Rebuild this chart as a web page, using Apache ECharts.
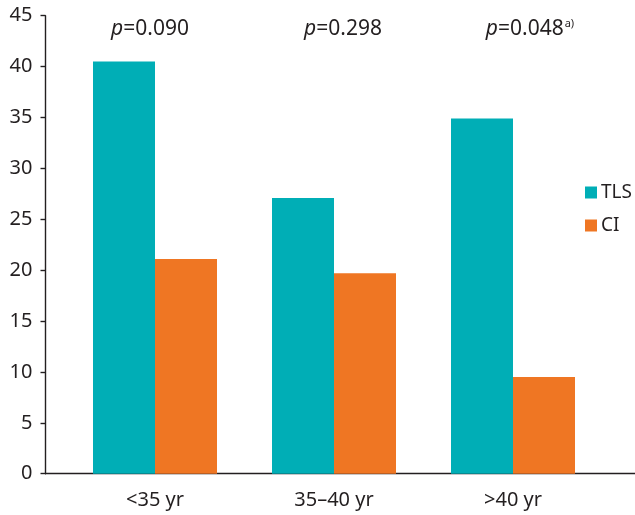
<!DOCTYPE html>
<html>
<head>
<meta charset="utf-8">
<script src="https://cdn.jsdelivr.net/npm/echarts@6/dist/echarts.min.js"></script>
<style>html,body{margin:0;padding:0;background:#fff}#c{width:635px;height:515px}</style>
</head>
<body>
<div id="c"></div>
<script>
const categories = ['<35 yr', '35\u201340 yr', '>40 yr'];
const tlsValues = [40.5, 27.1, 34.9];
const ciValues = [21.1, 19.7, 9.5];
const yMin = 0, yMax = 45, yInterval = 5;
const pValues = ['0.090', '0.298', '0.048'];
const pNotes = ['', '', 'a)'];
const pLabelLevel = 43.7;

const textColor = '#231f20';
const font = 'Noto Sans';
const pShift = [-5, 9, 17];

const chart = echarts.init(document.getElementById('c'), null, {renderer: 'canvas'});
chart.setOption({
  animation: false,
  backgroundColor: '#fff',
  textStyle: {fontFamily: font, color: textColor},
  grid: [
    {left: 65.5, right: 32.5, top: 15.7, bottom: 41.3},
    {left: 45.5, right: 0, top: 15.7, bottom: 41.3}
  ],
  legend: {
    orient: 'vertical', left: 585, top: 183, padding: 0,
    itemWidth: 12, itemHeight: 12, itemGap: 14, icon: 'rect',
    textStyle: {fontFamily: font, fontSize: 19, color: textColor, padding: [0, 0, 0, -1]},
    data: ['TLS', 'CI']
  },
  xAxis: [
    {
      type: 'category', gridIndex: 0, data: categories,
      axisLine: {show: false}, axisTick: {show: false},
      axisLabel: {fontFamily: font, fontSize: 20, color: textColor, margin: 17}
    },
    {
      type: 'value', gridIndex: 1, min: 0, max: 1,
      axisLine: {show: true, onZero: false, lineStyle: {color: textColor, width: 1.4}},
      axisTick: {show: false}, axisLabel: {show: false}, splitLine: {show: false}
    }
  ],
  yAxis: [
    {
      type: 'value', gridIndex: 0, min: yMin, max: yMax, interval: yInterval, offset: 20,
      axisLine: {show: true, lineStyle: {color: textColor, width: 1.4}},
      axisTick: {show: true, length: 5, lineStyle: {color: textColor, width: 1.4}},
      axisLabel: {fontFamily: font, fontSize: 20, color: textColor, margin: 13},
      splitLine: {show: false}
    },
    {type: 'value', gridIndex: 1, min: 0, max: 1, show: false}
  ],
  series: [
    {name: 'TLS', type: 'bar', data: tlsValues, barWidth: 62, barGap: '0%',
      itemStyle: {color: '#00aeb6'}},
    {name: 'CI', type: 'bar', data: ciValues, barWidth: 62, barGap: '0%',
      itemStyle: {color: '#ef7623'}},
    {
      type: 'scatter', symbolSize: 0, silent: true,
      itemStyle: {opacity: 1},
      data: pValues.map((v, i) => ({
        value: [i, pLabelLevel],
        label: {
          show: true, position: 'inside', offset: [pShift[i], 0], opacity: 1,
          formatter: '{i|p}{n|=' + v + '}' + (pNotes[i] ? '{s|' + pNotes[i] + '}' : ''),
          rich: {
            i: {fontFamily: font, fontStyle: 'italic', fontSize: 21, color: textColor, opacity: 1},
            n: {fontFamily: font, fontSize: 21, color: textColor, opacity: 1},
            s: {fontFamily: font, fontSize: 11, color: textColor, opacity: 1, padding: [0, 0, 10, 1]}
          }
        }
      }))
    }
  ]
});
</script>
</body>
</html>
